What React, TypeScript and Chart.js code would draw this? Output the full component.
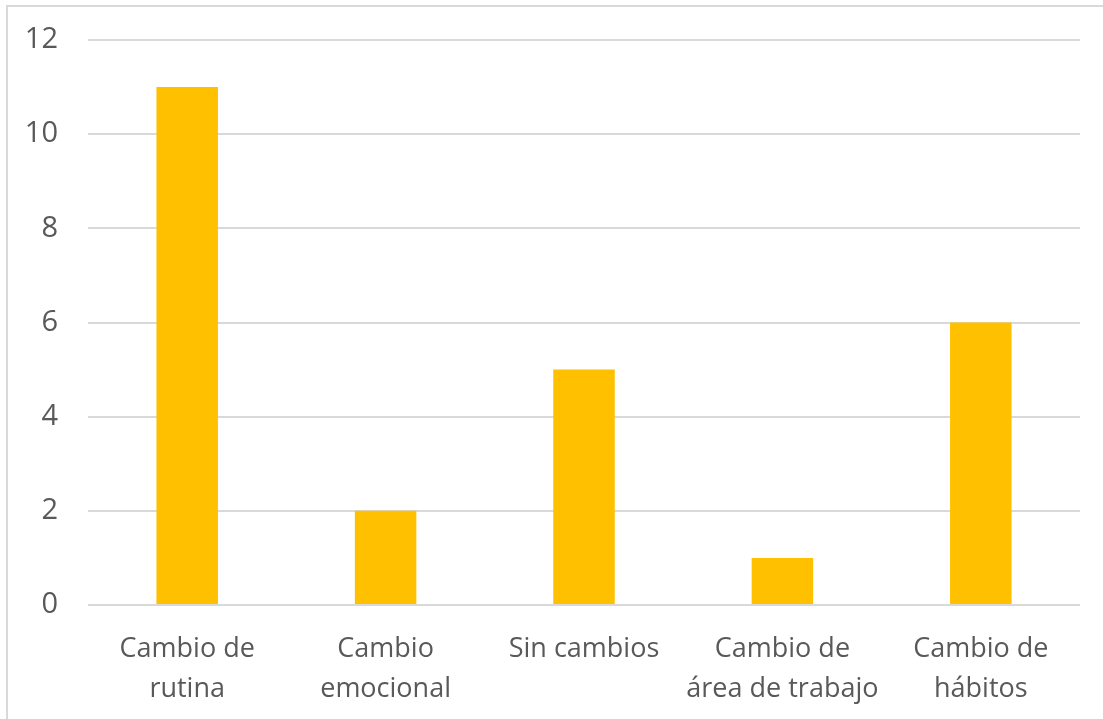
import React, { useEffect, useRef } from "react";
import { Chart, registerables } from "chart.js";

Chart.register(...registerables);

// Categories (wrapped onto two lines where needed)
const categories: string[][] = [
  ["Cambio de", "rutina"],
  ["Cambio", "emocional"],
  ["Sin cambios"],
  ["Cambio de", "área de trabajo"],
  ["Cambio de", "hábitos"],
];

// Number of responses per category
const counts: number[] = [11, 2, 5, 1, 6];

// Y axis range
const yMin = 0;
const yMax = 12;
const yStep = 2;

const FONT = "'Open Sans', Lato, sans-serif";
const TEXT = "#595959";
const GRID = "#d9d9d9";
const BAR = "#FFC000";

export default function App() {
  const canvasRef = useRef<HTMLCanvasElement | null>(null);

  useEffect(() => {
    if (!canvasRef.current) return;
    const chart = new Chart(canvasRef.current, {
      type: "bar",
      data: {
        labels: categories,
        datasets: [
          {
            data: counts,
            backgroundColor: BAR,
            borderWidth: 0,
            categoryPercentage: 0.31,
            barPercentage: 1,
          },
        ],
      },
      options: {
        responsive: false,
        animation: false,
        devicePixelRatio: 1,
        layout: { padding: { left: 0, right: 23, top: 40, bottom: 0 } },
        plugins: {
          legend: { display: false },
          tooltip: { enabled: false },
        },
        scales: {
          x: {
            grid: { display: false, drawTicks: false },
            border: { display: false },
            ticks: {
              color: TEXT,
              padding: 24,
              maxRotation: 0,
              autoSkip: false,
              font: { family: FONT, size: 27, lineHeight: 40 / 27 },
            },
            afterFit: (scale: any) => {
              scale.height = 114;
              scale.paddingLeft = 0;
              scale.paddingRight = 0;
            },
          },
          y: {
            min: yMin,
            max: yMax,
            grid: { color: GRID, lineWidth: 2, drawTicks: false },
            border: { display: false },
            ticks: {
              stepSize: yStep,
              color: TEXT,
              padding: 30,
              font: { family: FONT, size: 29 },
            },
            afterFit: (scale: any) => {
              scale.width = 88;
              scale.paddingTop = 0;
              scale.paddingBottom = 0;
            },
          },
        },
      },
    });
    return () => chart.destroy();
  }, []);

  return (
    <div
      style={{
        position: "fixed",
        left: 0,
        top: 0,
        width: 1103,
        height: 719,
        background: "#ffffff",
        overflow: "hidden",
      }}
    >
      <div
        style={{
          position: "absolute",
          left: 6,
          top: 5,
          width: 1200,
          height: 800,
          borderLeft: `2px solid ${GRID}`,
          borderTop: `2px solid ${GRID}`,
        }}
      />
      <canvas
        ref={canvasRef}
        width={1103}
        height={719}
        style={{ position: "absolute", left: 0, top: 0 }}
      />
    </div>
  );
}
